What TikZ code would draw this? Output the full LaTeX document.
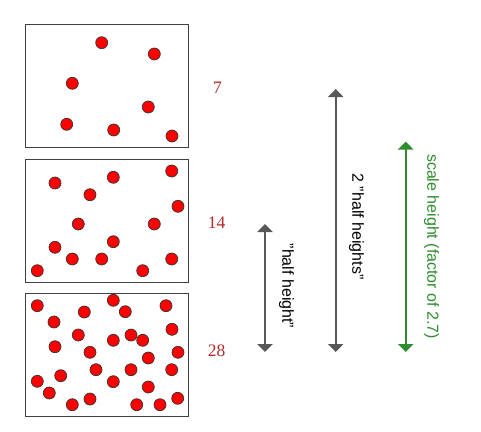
\documentclass[tikz,border=0pt]{standalone}
\usepackage{fontspec}
\setmainfont{Liberation Serif}
\setsansfont{Liberation Sans}
\usetikzlibrary{arrows.meta}

\definecolor{countred}{RGB}{178,40,44}
\definecolor{arrowgray}{RGB}{88,88,88}
\definecolor{scalegreen}{RGB}{46,140,46}

\begin{document}
\begin{tikzpicture}[
    x=1pt, y=-1pt,
    layerbox/.style={draw=black!75, line width=0.9pt, minimum width=163pt, minimum height=123pt, inner sep=0pt},
    gasdot/.style={circle, draw=black!80, fill=red, line width=0.7pt, minimum size=12pt, inner sep=0pt},
    count/.style={text=countred, font=\fontsize{17.5}{20}\selectfont},
    heightlabel/.style={rotate=-90, font=\sffamily\fontsize{16}{19}\selectfont},
    dimarrow/.style={{Triangle[width=15pt,length=8pt]}-{Triangle[width=15pt,length=8pt]}, line width=2.2pt}
]
\useasboundingbox (0,0) rectangle (481,431);

% three layers of gas
\node[layerbox] (top) at (106.5,85.5) {};
\node[layerbox] (mid) at (106.5,220.5) {};
\node[layerbox] (low) at (106.5,354.5) {};

\foreach \px/\py [count=\i] in {101.7/42.7, 154.3/54, 72.3/83.3, 148.3/107, 66.7/124.3, 113.7/130, 172/136}
    \node[gasdot] (t\i) at (\px,\py) {};

\foreach \px/\py [count=\i] in {171.7/171, 113.3/177.3, 55/183, 90/194.7, 178/206.3, 78.3/224, 154.3/224,
    113.3/241.7, 55/247.3, 72.3/259, 101.7/259, 171.7/259, 37.3/270.7, 142.7/270.7}
    \node[gasdot] (m\i) at (\px,\py) {};

\foreach \px/\py [count=\i] in {113.3/300.3, 37.3/305.7, 166/305.7, 84.3/312, 125.3/311.7, 54/322, 172/329.3,
    78.3/335, 131/335, 142.7/340.3, 113.3/340.3, 55/346.7, 178/352.3, 90/352.3, 148.3/358,
    96/369.7, 131/369.7, 171.7/369.7, 60.7/375.7, 37.3/381.3, 113.3/381.7, 148.3/387,
    49.3/393, 177.7/398.3, 90/399, 72.3/404.7, 136.7/404.7, 160/404.7}
    \node[gasdot] (l\i) at (\px,\py) {};

% particle counts
\node[count] (n7) at (217.5,88) {7};
\node[count] (n14) at (216.5,222.5) {14};
\node[count] (n28) at (216.5,351) {28};

% height arrows
\coordinate (halftop) at (265,224);
\coordinate (halfbot) at (265,352);
\coordinate (twotop) at (335.7,89);
\coordinate (twobot) at (335.7,352);
\coordinate (scaletop) at (405.7,141.5);
\coordinate (scalebot) at (405.7,352);

\draw[dimarrow, arrowgray] (halftop) -- (halfbot);
\draw[dimarrow, arrowgray] (twotop) -- (twobot);
\draw[dimarrow, scalegreen] (scaletop) -- (scalebot);

\node[heightlabel] (halflabel) at (286.5,286) {"half height"};
\node[heightlabel] (twolabel) at (356.5,226.5) {2 "half heights"};
\node[heightlabel, text=scalegreen] (scalelabel) at (431.5,246.5) {scale height (factor of 2.7)};
\end{tikzpicture}
\end{document}
